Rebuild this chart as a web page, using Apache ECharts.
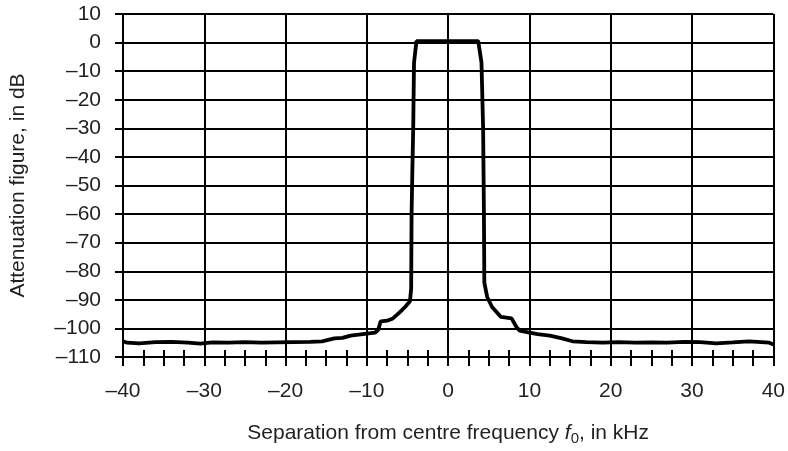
<!DOCTYPE html>
<html>
<head>
<meta charset="utf-8">
<script src="https://cdn.jsdelivr.net/npm/echarts@6/dist/echarts.min.js"></script>
<style>
  html, body { margin: 0; padding: 0; background: #fff; }
  #chart { width: 788px; height: 451px; }
</style>
</head>
<body>
<div id="chart"></div>
<script>
// separation from centre frequency, kHz
var freq = [
  -40, -39.5, -38, -36, -34, -32, -30.5, -29, -27, -25, -23, -21, -19, -17, -15.5,
  -14, -13, -12, -11, -10, -9, -8.6, -8.3, -7.5, -6.8, -6, -5.3, -4.7, -4.55,
  -4.5, -4.4, -4.3, -4.2, -3.9,
  3.7, 4.1, 4.3, 4.4, 4.45, 4.8, 5.4, 6.5, 7.8, 8.4, 8.8, 10, 11, 12.5, 14, 15.3,
  17, 19, 21, 23, 25, 27, 29, 31, 33, 35, 37, 38.5, 39.5, 40
];
// attenuation figure, dB
var atten = [
  -104.5, -105, -105.2, -104.8, -104.7, -105, -105.3, -104.9, -105, -104.8, -105, -104.9, -104.8, -104.7, -104.5,
  -103.5, -103.3, -102.5, -102.2, -101.8, -101.5, -100.5, -97.5, -97.3, -96.5, -94.5, -92.5, -90.5, -86,
  -60, -44, -30, -7, 0.5,
  0.5, -7, -30, -60, -84, -89, -92.5, -96, -96.5, -99.5, -100.8, -101.5, -102, -102.5, -103.5, -104.5,
  -104.8, -105, -104.8, -105, -104.9, -105, -104.7, -104.8, -105.2, -104.9, -104.5, -104.8, -105, -105.6
];
var yMin = -110, yMax = 10, yStep = 10;
var xMin = -40, xMax = 40, xStep = 10;

var textColor = "#231f20";
var fontFamily = "'Liberation Sans', Arial, sans-serif";
var fontSize = 21;
var dash = function(v) { return String(v).replace("-", "\u2013"); };

var points = freq.map(function(f, i) { return [f, atten[i]]; });

var chart = echarts.init(document.getElementById("chart"));
var option = {
  backgroundColor: "#fff",
  animation: false,
  grid: { left: 120, right: 13, top: 14, bottom: 89 },
  xAxis: [
    {
      type: "value",
      min: xMin,
      max: xMax,
      interval: xStep,
      axisLine: { onZero: false, lineStyle: { color: "#000", width: 2 } },
      axisTick: { show: true, length: 9, lineStyle: { color: "#000", width: 2 } },
      minorTick: { show: true, splitNumber: 4, length: 9, lineStyle: { color: "#000", width: 2 } },
      splitLine: { show: true, lineStyle: { color: "#000", width: 2 } },
      axisLabel: {
        margin: 24,
        color: textColor,
        fontSize: fontSize,
        fontFamily: fontFamily,
        formatter: dash
      },
      name: "{a|Separation from centre frequency }{i|f}{s|0}{a|, in kHz}",
      nameLocation: "middle",
      nameGap: 64,
      nameTextStyle: {
        rich: {
          a: { fontSize: fontSize, color: textColor, fontFamily: fontFamily },
          i: { fontSize: fontSize, color: textColor, fontFamily: fontFamily, fontStyle: "italic" },
          s: { fontSize: 15, color: textColor, fontFamily: fontFamily, padding: [10, 0, 0, 0] }
        }
      }
    },
    {
      type: "value",
      min: xMin,
      max: xMax,
      interval: xStep,
      position: "bottom",
      axisLine: { show: false, onZero: false },
      axisTick: { show: true, inside: true, length: 7, lineStyle: { color: "#000", width: 2 } },
      minorTick: { show: true, splitNumber: 4, length: 7, lineStyle: { color: "#000", width: 2 } },
      splitLine: { show: false },
      axisLabel: { show: false }
    }
  ],
  yAxis: {
    type: "value",
    min: yMin,
    max: yMax,
    interval: yStep,
    axisLine: { show: true, onZero: false, lineStyle: { color: "#000", width: 2 } },
    axisTick: { show: true, length: 8, lineStyle: { color: "#000", width: 2 } },
    splitLine: { show: true, lineStyle: { color: "#000", width: 2 } },
    axisLabel: {
      margin: 22,
      color: textColor,
      fontSize: fontSize,
      fontFamily: fontFamily,
      formatter: dash
    },
    name: "Attenuation figure, in dB",
    nameLocation: "middle",
    nameGap: 94,
    nameTextStyle: { fontSize: fontSize, color: textColor, fontFamily: fontFamily }
  },
  series: [
    {
      type: "line",
      data: points,
      symbol: "none",
      lineStyle: { color: "#000", width: 3.8 },
      z: 5
    }
  ]
};
chart.setOption(option);
</script>
</body>
</html>
